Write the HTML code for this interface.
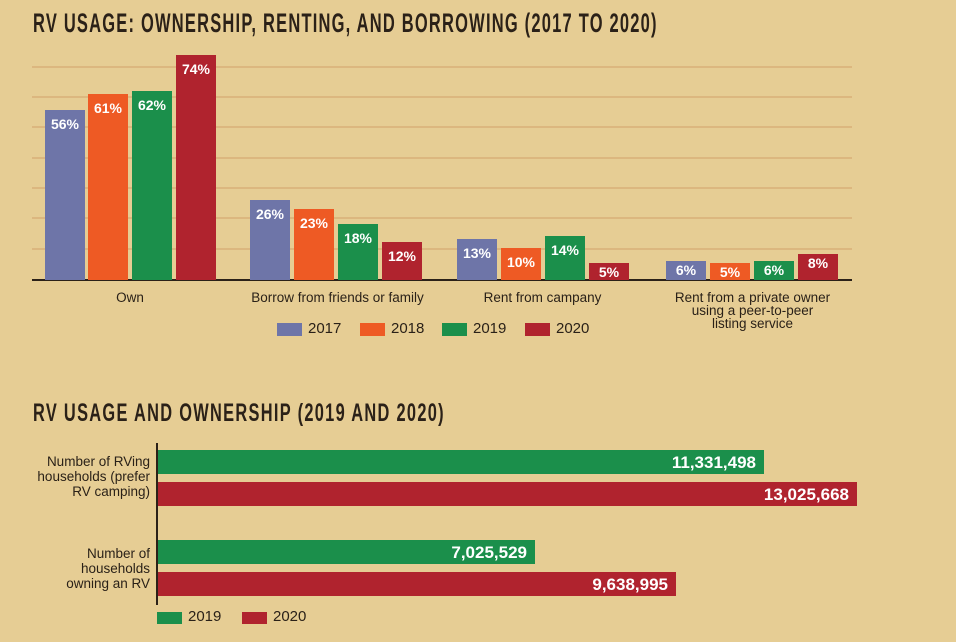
<!DOCTYPE html><html><head><style>
body{margin:0;width:956px;height:642px;background:#e6cd94;position:relative;overflow:hidden;font-family:"Liberation Sans",sans-serif;color:#2a2118}
.t{position:absolute;left:33px;font-weight:bold;font-size:27px;letter-spacing:2px;transform-origin:0 0;white-space:nowrap;color:#2b2118}
.g{position:absolute;left:32px;width:820px;height:2px;background:#dcb77f}
.b{position:absolute;width:40px;color:#fff;font-weight:bold;font-size:14px;text-align:center;padding-top:6px;box-sizing:border-box}
.c1{background:#6e75a8}.c2{background:#ee5a24}.c3{background:#1b8f4b}.c4{background:#b0232e}
.l{position:absolute;font-size:13.5px;text-align:center;line-height:13px}
.h{position:absolute;left:158px;height:24px;color:#fff;font-weight:bold;font-size:17px;text-align:right;padding-right:8px;box-sizing:border-box;line-height:25px}
.y{position:absolute;font-size:13.5px;text-align:right;width:150px;left:0;line-height:15px}
</style></head><body>
<div class="t" style="top:8px;transform:scaleX(0.61)">RV USAGE: OWNERSHIP, RENTING, AND BORROWING (2017 TO 2020)</div>
<div class="g" style="top:66px"></div><div class="g" style="top:96px"></div><div class="g" style="top:126px"></div><div class="g" style="top:157px"></div><div class="g" style="top:187px"></div><div class="g" style="top:217px"></div><div class="g" style="top:248px"></div>
<div style="position:absolute;left:32px;top:279px;width:820px;height:2px;background:#2b2118"></div>
<div class="b c1" style="left:45px;top:110px;height:170px">56%</div>
<div class="b c2" style="left:88px;top:94px;height:186px">61%</div>
<div class="b c3" style="left:132px;top:91px;height:189px">62%</div>
<div class="b c4" style="left:176px;top:55px;height:225px">74%</div>
<div class="b c1" style="left:250px;top:200px;height:80px">26%</div>
<div class="b c2" style="left:294px;top:209px;height:71px">23%</div>
<div class="b c3" style="left:338px;top:224px;height:56px">18%</div>
<div class="b c4" style="left:382px;top:242px;height:38px">12%</div>
<div class="b c1" style="left:457px;top:239px;height:41px">13%</div>
<div class="b c2" style="left:501px;top:248px;height:32px">10%</div>
<div class="b c3" style="left:545px;top:236px;height:44px">14%</div>
<div class="b c4" style="left:589px;top:263px;height:17px;padding-top:1px">5%</div>
<div class="b c1" style="left:666px;top:261px;height:19px;padding-top:1px">6%</div>
<div class="b c2" style="left:710px;top:263px;height:17px;padding-top:1px">5%</div>
<div class="b c3" style="left:754px;top:261px;height:19px;padding-top:1px">6%</div>
<div class="b c4" style="left:798px;top:254px;height:26px;padding-top:1px">8%</div>
<div class="l" style="left:80px;top:291px;width:100px">Own</div>
<div class="l" style="left:230px;top:291px;width:215px">Borrow from friends or family</div>
<div class="l" style="left:440px;top:291px;width:205px">Rent from campany</div>
<div class="l" style="left:650px;top:291px;width:205px">Rent from a private owner<br>using a peer-to-peer<br>listing service</div>
<div class="c1" style="position:absolute;left:277px;top:323px;width:25px;height:13px"></div><div class="l" style="left:308px;top:322px;font-size:15px">2017</div>
<div class="c2" style="position:absolute;left:360px;top:323px;width:25px;height:13px"></div><div class="l" style="left:391px;top:322px;font-size:15px">2018</div>
<div class="c3" style="position:absolute;left:442px;top:323px;width:25px;height:13px"></div><div class="l" style="left:473px;top:322px;font-size:15px">2019</div>
<div class="c4" style="position:absolute;left:525px;top:323px;width:25px;height:13px"></div><div class="l" style="left:556px;top:322px;font-size:15px">2020</div>
<div class="t" style="top:399px;font-size:25px;transform:scaleX(0.655)">RV USAGE AND OWNERSHIP (2019 AND 2020)</div>
<div style="position:absolute;left:156px;top:443px;width:2px;height:162px;background:#2b2118"></div>
<div class="y" style="top:454px">Number of RVing<br>households (prefer<br>RV camping)</div>
<div class="y" style="top:546px">Number of<br>households<br>owning an RV</div>
<div class="h c3" style="top:450px;width:606px">11,331,498</div>
<div class="h c4" style="top:482px;width:699px">13,025,668</div>
<div class="h c3" style="top:540px;width:377px">7,025,529</div>
<div class="h c4" style="top:572px;width:518px">9,638,995</div>
<div class="c3" style="position:absolute;left:157px;top:612px;width:25px;height:12px"></div><div class="l" style="left:188px;top:610px;font-size:15px">2019</div>
<div class="c4" style="position:absolute;left:242px;top:612px;width:25px;height:12px"></div><div class="l" style="left:273px;top:610px;font-size:15px">2020</div>
</body></html>
